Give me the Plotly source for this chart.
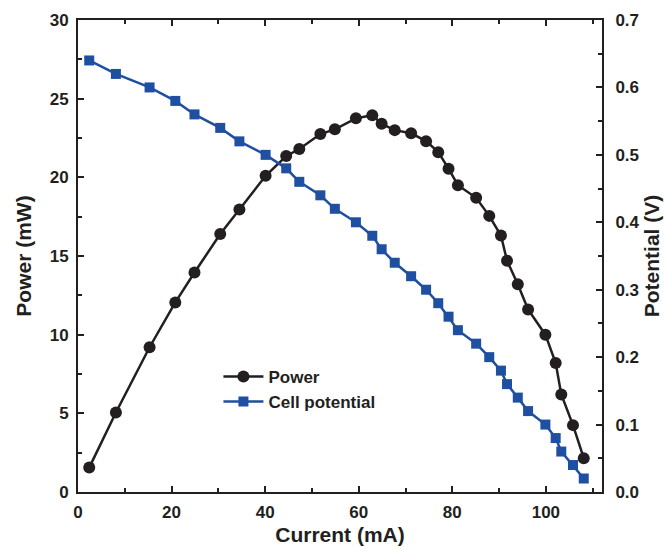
import plotly.graph_objects as go

# Fuel-cell polarization data: current, power and cell potential
current_mA = [2.4, 8.1, 15.3, 20.8, 24.9, 30.4, 34.5, 40.1, 44.5, 47.3, 51.8,
              54.9, 59.4, 62.9, 64.9, 67.7, 71.2, 74.4, 77.0, 79.2, 81.2, 85.1,
              87.9, 90.4, 91.7, 94.0, 96.2, 99.9, 102.1, 103.3, 105.8, 108.1]
power_mW = [1.55, 5.05, 9.2, 12.05, 13.95, 16.4, 17.95, 20.1, 21.35, 21.8, 22.75,
            23.05, 23.75, 23.95, 23.4, 23.0, 22.8, 22.3, 21.6, 20.55, 19.5, 18.7,
            17.55, 16.3, 14.7, 13.2, 11.6, 10.0, 8.2, 6.2, 4.25, 2.15]
potential_V = [0.64, 0.62, 0.60, 0.58, 0.56, 0.54, 0.52, 0.50, 0.48, 0.46, 0.44,
               0.42, 0.40, 0.38, 0.36, 0.34, 0.32, 0.30, 0.28, 0.26, 0.24, 0.22,
               0.20, 0.18, 0.16, 0.14, 0.12, 0.10, 0.08, 0.06, 0.04, 0.02]

BLACK = "#231f20"
BLUE = "#1f4fa0"
FONT = "Liberation Sans, Arial, sans-serif"

fig = go.Figure()
fig.add_trace(go.Scatter(
    x=current_mA, y=power_mW, name="<b>Power</b>", mode="lines+markers",
    line=dict(color=BLACK, width=2.5),
    marker=dict(symbol="circle", size=12, color=BLACK),
    yaxis="y",
))
fig.add_trace(go.Scatter(
    x=current_mA, y=potential_V, name="<b>Cell potential</b>", mode="lines+markers",
    line=dict(color=BLUE, width=2.5),
    marker=dict(symbol="square", size=10, color=BLUE),
    yaxis="y2",
))

axis_common = dict(
    showline=True, linecolor=BLACK, linewidth=2,
    ticks="inside", ticklen=6, tickwidth=2, tickcolor=BLACK,
    showgrid=False, zeroline=False, automargin=False,
    tickfont=dict(family=FONT, size=17, color=BLACK),
    title_font=dict(family=FONT, size=21, color=BLACK),
)

fig.update_layout(
    width=664, height=547,
    margin=dict(l=78, r=62, t=20, b=55, autoexpand=False),
    paper_bgcolor="white", plot_bgcolor="white",
    font=dict(family=FONT, color=BLACK),
    showlegend=True,
    legend=dict(
        x=0.268, y=0.282, xanchor="left", yanchor="top",
        bgcolor="rgba(0,0,0,0)", borderwidth=0,
        font=dict(family=FONT, size=17, color=BLACK),
        itemwidth=40, tracegroupgap=0,
    ),
    xaxis=dict(
        range=[0, 112], dtick=20, tick0=0,
        mirror="ticks",
        minor=dict(ticks="inside", dtick=10, ticklen=4, tickwidth=2, tickcolor=BLACK),
        title=dict(text="<b>Current (mA)</b>", standoff=6),
        tickprefix="<b>", ticksuffix="</b>",
        ticklabelstandoff=4,
        **axis_common,
    ),
    yaxis=dict(
        range=[0, 30], dtick=5, tick0=0,
        minor=dict(ticks="inside", dtick=2.5, ticklen=4, tickwidth=2, tickcolor=BLACK),
        title=dict(text="<b>Power (mW)</b>", standoff=12),
        tickprefix="<b>", ticksuffix="</b>",
        ticklabelstandoff=4,
        **axis_common,
    ),
    yaxis2=dict(
        range=[0, 0.7], dtick=0.1, tick0=0, tickformat=".1f",
        overlaying="y", side="right",
        minor=dict(ticks="inside", dtick=0.05, ticklen=4, tickwidth=2, tickcolor=BLACK),
        title=dict(text="<b>Potential (V)</b>", standoff=4),
        tickprefix="<b>", ticksuffix="</b>",
        ticklabelstandoff=8,
        **axis_common,
    ),
)

fig.write_html("out.html")
